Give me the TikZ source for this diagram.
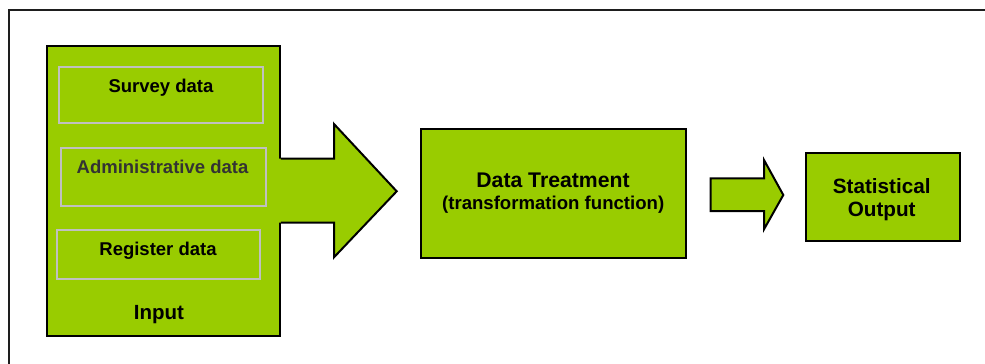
\documentclass[tikz,border=0pt]{standalone}
\usepackage{fontspec}
\setmainfont{Liberation Sans}
\definecolor{limefill}{HTML}{99CC00}
\definecolor{innerline}{HTML}{C0C0C0}
\definecolor{frameline}{HTML}{1E1E1E}
\definecolor{admintext}{HTML}{333333}
\tikzset{
  greenbox/.style={draw=black, fill=limefill, line width=2pt, inner sep=0pt},
  innerbox/.style={draw=innerline, line width=1.8pt, inner sep=0pt},
  blockarrow/.style={fill=limefill},
  arrowedge/.style={draw=black, line width=2pt, line join=miter},
  smalltxt/.style={font=\bfseries\fontsize{18.5}{22}\selectfont, anchor=base, inner sep=0pt},
  bigtxt/.style={font=\bfseries\fontsize{20.8}{24}\selectfont, anchor=base, inner sep=0pt}
}
\begin{document}
\begin{tikzpicture}[x=1pt,y=-1pt]
\useasboundingbox (0,0) rectangle (985,364);
% outer frame (only top and left visible)
\draw[frameline, line width=2pt] (9,364) -- (9,10) -- (985,10);

% input box
\node[greenbox, minimum width=233.3pt, minimum height=289.7pt] (input) at (163.3,190.9) {};
\node[innerbox, minimum width=204pt, minimum height=56pt] (survey) at (161.3,95.3) {};
\node[innerbox, minimum width=204.4pt, minimum height=57.7pt] (admin) at (163.5,176.9) {};
\node[innerbox, minimum width=203.6pt, minimum height=49pt] (register) at (158.5,254.2) {};
\node[smalltxt] (surveytxt) at (161,92.5) {Survey data};
\node[smalltxt, text=admintext] (admintxt) at (162.5,173.3) {Administrative data};
\node[smalltxt] (registertxt) at (158,255.7) {Register data};
\node[bigtxt, font=\bfseries\fontsize{20.5}{24}\selectfont] (inputtxt) at (159,319) {Input};

% big block arrow
\fill[blockarrow] (279,158.7) -- (334,158.7) -- (334,124) -- (396.7,191.3) -- (334,257.3) -- (334,222.7) -- (279,222.7) -- cycle;
\draw[arrowedge] (input.east |- 0,158.7) -- (334,158.7) -- (334,124) -- (396.7,191.3) -- (334,257.3) -- (334,222.7) -- (input.east |- 0,222.7);

% data treatment
\node[greenbox, minimum width=264.7pt, minimum height=129pt] (treat) at (553.3,193.5) {};
\node[bigtxt, font=\bfseries\fontsize{21.2}{24}\selectfont] (treattxt) at (553,187.3) {Data Treatment};
\node[smalltxt, font=\bfseries\fontsize{18.6}{22}\selectfont] (treatsub) at (553.2,209.8) {(transformation function)};

% small block arrow
\filldraw[blockarrow, arrowedge] (710.7,178.3) -- (764,178.3) -- (764,160) -- (783.3,195) -- (764,229.3) -- (764,211) -- (710.7,211) -- cycle;

% statistical output
\node[greenbox, minimum width=154pt, minimum height=88pt] (output) at (883,196.7) {};
\node[bigtxt, font=\bfseries\fontsize{20.7}{24}\selectfont] (outtxt1) at (881.7,193.3) {Statistical};
\node[bigtxt, font=\bfseries\fontsize{20.7}{24}\selectfont] (outtxt2) at (881.7,216) {Output};
\end{tikzpicture}
\end{document}
